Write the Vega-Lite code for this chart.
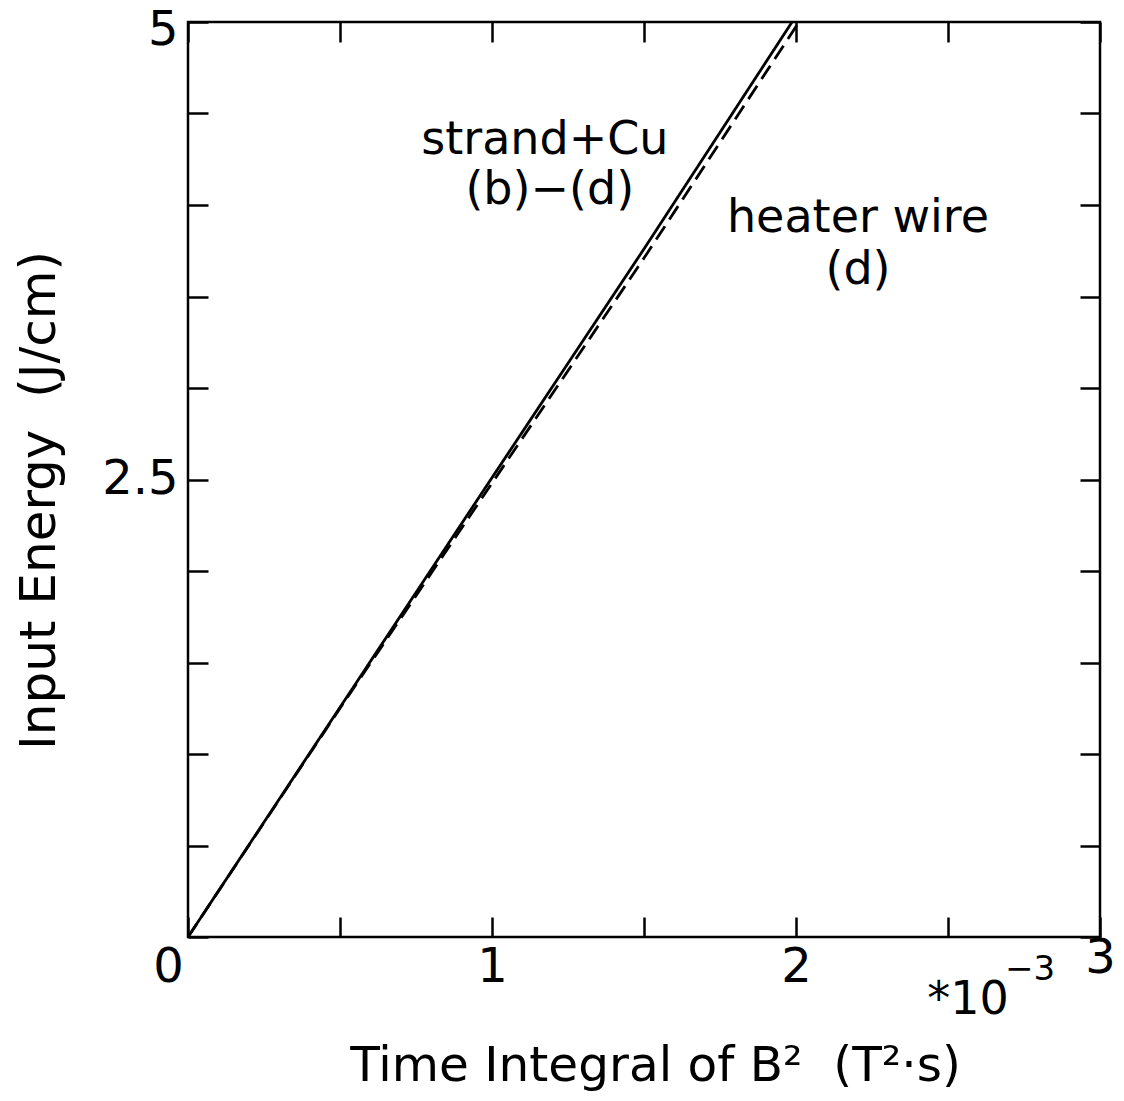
{
  "$schema": "https://vega.github.io/schema/vega-lite/v6.json",
  "width": 912,
  "height": 915,
  "autosize": "none",
  "padding": {"left": 188, "top": 22, "right": 24, "bottom": 164},
  "background": "white",
  "config": {
    "view": {"stroke": "black", "strokeWidth": 2.5},
    "font": "DejaVu Sans",
    "axis": {
      "domain": false,
      "grid": false,
      "tickColor": "black",
      "tickWidth": 2.5,
      "tickSize": -20,
      "labelColor": "black",
      "labelFont": "DejaVu Sans",
      "labelFontSize": 48,
      "titleColor": "black",
      "titleFont": "DejaVu Sans",
      "titleFontWeight": "normal",
      "titleFontSize": 48.5
    }
  },
  "datasets": {
    "curves": [
      {"series": "strand+Cu (b)-(d)", "b2": 0, "energy": 0},
      {"series": "strand+Cu (b)-(d)", "b2": 0.5, "energy": 1.255},
      {"series": "strand+Cu (b)-(d)", "b2": 1.0, "energy": 2.51},
      {"series": "strand+Cu (b)-(d)", "b2": 1.5, "energy": 3.76},
      {"series": "strand+Cu (b)-(d)", "b2": 1.987, "energy": 5.0},
      {"series": "heater wire (d)", "b2": 0, "energy": 0},
      {"series": "heater wire (d)", "b2": 0.5, "energy": 1.25},
      {"series": "heater wire (d)", "b2": 1.0, "energy": 2.48},
      {"series": "heater wire (d)", "b2": 1.5, "energy": 3.71},
      {"series": "heater wire (d)", "b2": 2.01, "energy": 5.0}
    ],
    "labels": [
      {"text": "strand+Cu", "b2": 1.174, "energy": 4.355},
      {"text": "(b)−(d)", "b2": 1.19, "energy": 4.08},
      {"text": "heater wire", "b2": 2.204, "energy": 3.93},
      {"text": "(d)", "b2": 2.204, "energy": 3.645},
      {"text": "*10", "b2": 2.566, "energy": -0.344}
    ],
    "sup": [
      {"text": "−3", "b2": 2.77, "energy": -0.18}
    ]
  },
  "layer": [
    {
      "data": {"name": "curves"},
      "mark": {"type": "line", "color": "black", "strokeWidth": 2.8, "clip": true},
      "encoding": {
        "x": {
          "field": "b2", "type": "quantitative",
          "scale": {"domain": [0, 3], "nice": false, "zero": false},
          "axis": {
            "orient": "bottom",
            "values": [0, 0.5, 1, 1.5, 2, 2.5, 3],
            "labelExpr": "datum.value % 1 == 0 ? format(datum.value, 'd') : ''",
            "labelPadding": {"condition": {"test": "datum.value == 3", "value": 17}, "value": 26},
            "labelOffset": {"condition": {"test": "datum.value == 0", "value": -20}, "value": 0},
            "labelFlush": false,
            "labelOverlap": false,
            "title": "Time Integral of B²\u00a0\u00a0(T²·s)",
            "titleX": 467,
            "titleY": 143,
            "titleBaseline": "alphabetic",
            "titleAnchor": "middle"
          }
        },
        "y": {
          "field": "energy", "type": "quantitative",
          "scale": {"domain": [0, 5], "nice": false, "zero": false},
          "axis": {
            "orient": "left",
            "values": [0, 0.5, 1, 1.5, 2, 2.5, 3, 3.5, 4, 4.5, 5],
            "labelExpr": "datum.value == 2.5 ? '2.5' : (datum.value == 5 ? '5' : '')",
            "labelPadding": 30,
            "labelOffset": {"condition": {"test": "datum.value == 5", "value": 8}, "value": 0},
            "labelFlush": false,
            "labelOverlap": false,
            "title": "Input Energy\u00a0\u00a0(J/cm)",
            "titleFontSize": 50,
            "titleX": -134,
            "titleY": 478,
            "titleAngle": -90,
            "titleBaseline": "alphabetic",
            "titleAnchor": "middle"
          }
        },
        "strokeDash": {
          "field": "series", "type": "nominal",
          "scale": {"domain": ["strand+Cu (b)-(d)", "heater wire (d)"], "range": [[1, 0], [16, 8]]},
          "legend": null
        }
      }
    },
    {
      "data": {"name": "curves"},
      "mark": {"type": "point", "opacity": 0},
      "encoding": {
        "x": {
          "field": "b2", "type": "quantitative",
          "axis": {"orient": "top", "values": [0, 0.5, 1, 1.5, 2, 2.5, 3], "labels": false, "title": null}
        },
        "y": {
          "field": "energy", "type": "quantitative",
          "axis": {"orient": "right", "values": [0, 0.5, 1, 1.5, 2, 2.5, 3, 3.5, 4, 4.5, 5], "labels": false, "title": null}
        }
      }
    },
    {
      "data": {"name": "labels"},
      "mark": {"type": "text", "fontSize": 46, "font": "DejaVu Sans", "align": "center", "baseline": "middle", "color": "black"},
      "encoding": {
        "x": {"field": "b2", "type": "quantitative", "axis": null},
        "y": {"field": "energy", "type": "quantitative", "axis": null},
        "text": {"field": "text"}
      }
    },
    {
      "data": {"name": "sup"},
      "mark": {"type": "text", "fontSize": 34, "font": "DejaVu Sans", "align": "center", "baseline": "middle", "color": "black"},
      "encoding": {
        "x": {"field": "b2", "type": "quantitative", "axis": null},
        "y": {"field": "energy", "type": "quantitative", "axis": null},
        "text": {"field": "text"}
      }
    }
  ]
}
